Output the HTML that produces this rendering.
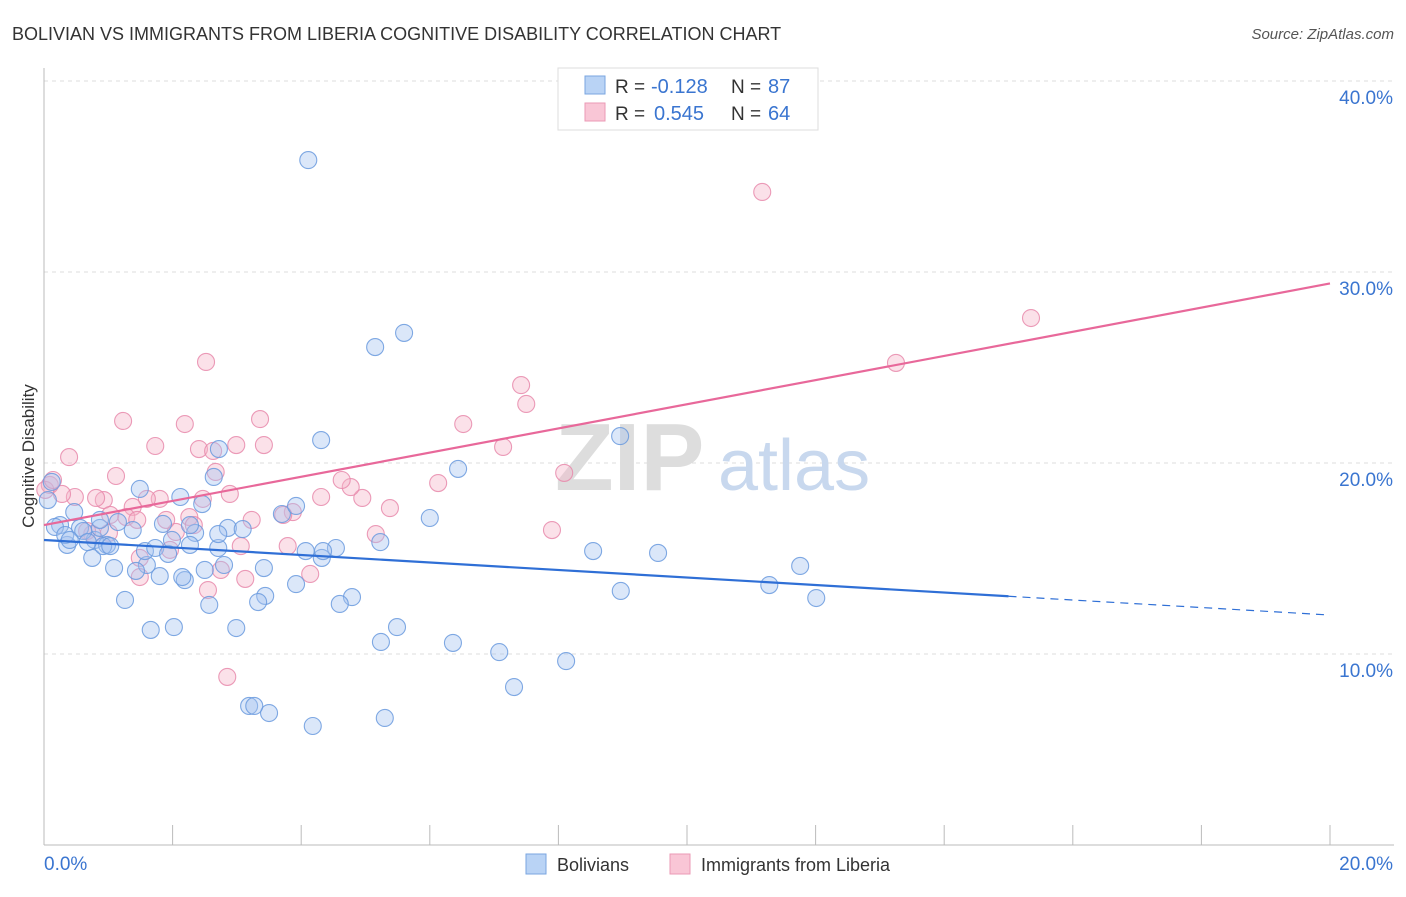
<!DOCTYPE html>
<html><head><meta charset="utf-8"><style>
body{margin:0;background:#fff;font-family:"Liberation Sans",sans-serif;}
svg text{font-family:"Liberation Sans",sans-serif;}
</style></head><body>
<svg id="chart" width="1406" height="892">
<text x="12" y="40" font-size="18" fill="#333">BOLIVIAN VS IMMIGRANTS FROM LIBERIA COGNITIVE DISABILITY CORRELATION CHART</text>
<text x="1394" y="39" font-size="15" fill="#555" text-anchor="end" font-style="italic">Source: ZipAtlas.com</text>
<g id="grid"></g>
<text x="555" y="490" font-size="96" fill="#ddd" font-family="Liberation Serif" font-weight="bold">ZIP</text>
<text x="718" y="490" font-size="72" fill="#c8d8ee">atlas</text>
<g id="pts"></g>
<g id="lines"></g>
<text transform="translate(34,456) rotate(-90)" font-size="17" fill="#333" text-anchor="middle">Cognitive Disability</text>
<g>
<rect x="558" y="68" width="260" height="62" fill="#fff" stroke="#ddd"/>
<rect x="585" y="76" width="20" height="18" fill="#b9d3f5" stroke="#7aa6e0"/>
<rect x="585" y="103" width="20" height="18" fill="#f9c6d6" stroke="#eb9ab5"/>
<text x="615" y="93" font-size="19" fill="#333">R =</text>
<text x="651" y="93" font-size="20" fill="#3a75d0">-0.128</text>
<text x="731" y="93" font-size="19" fill="#333">N =</text>
<text x="768" y="93" font-size="20" fill="#3a75d0">87</text>
<text x="615" y="120" font-size="19" fill="#333">R =</text>
<text x="654" y="120" font-size="20" fill="#3a75d0">0.545</text>
<text x="731" y="120" font-size="19" fill="#333">N =</text>
<text x="768" y="120" font-size="20" fill="#3a75d0">64</text>
</g>
<g>
<rect x="526" y="854" width="20" height="20" fill="#b9d3f5" stroke="#7aa6e0"/>
<text x="557" y="871" font-size="18" fill="#333">Bolivians</text>
<rect x="670" y="854" width="20" height="20" fill="#f9c6d6" stroke="#eb9ab5"/>
<text x="701" y="871" font-size="18" fill="#333">Immigrants from Liberia</text>
</g>
</svg>
<script>
const yTicks=[10,20,30,40];
const yTickLabels=["10.0%","20.0%","30.0%","40.0%"];
const xTickLabels=["0.0%","20.0%"];
const blueTrend=[15.97,12.04];
const pinkTrend=[16.75,29.4];
const blueDashFrom=15.0;
const bluePx=[[308,160],[375,347],[404,333],[321,440],[620,436],[458,469],[430,518],[380,542],[593,551],[658,553],[769,585],[800,566],[816,598],[621,591],[566,661],[514,687],[499,652],[453,643],[397,627],[381,642],[385,718],[313,726],[269,713],[249,706],[254,706],[352,597],[340,604],[296,584],[264,568],[265,596],[258,602],[236,628],[209,605],[205,570],[185,580],[182,577],[174,627],[151,630],[125,600],[160,576],[147,565],[136,571],[114,568],[92,558],[95,540],[107,545],[67,545],[60,525],[55,527],[80,528],[100,528],[103,546],[118,522],[133,530],[145,551],[155,548],[168,554],[172,540],[163,524],[180,497],[140,489],[202,504],[214,477],[219,449],[224,565],[218,548],[228,528],[243,529],[195,533],[190,545],[190,525],[218,534],[282,514],[296,506],[306,551],[322,558],[336,548],[323,551],[74,512],[83,531],[88,542],[110,546],[48,500],[52,482],[65,535],[70,540],[100,520]];
const pinkPx=[[762,192],[1031,318],[896,363],[521,385],[526,404],[463,424],[503,447],[564,473],[438,483],[552,530],[390,508],[362,498],[351,487],[342,480],[321,497],[293,512],[283,515],[260,419],[264,445],[236,445],[206,362],[185,424],[199,449],[213,451],[216,472],[230,494],[203,499],[189,517],[194,525],[176,532],[166,520],[160,499],[147,499],[133,507],[123,421],[116,476],[155,446],[104,500],[96,498],[110,515],[126,517],[137,520],[109,533],[92,534],[87,531],[75,497],[69,457],[62,494],[50,485],[45,490],[53,480],[140,577],[140,558],[221,570],[241,546],[245,579],[252,520],[310,574],[288,546],[376,534],[227,677],[208,590],[170,550]];
const blueX=bluePx.map(p=>+((p[0]-44)/64.3).toFixed(2));
const blueY=bluePx.map(p=>+((845-p[1])/19.1).toFixed(2));
const pinkX=pinkPx.map(p=>+((p[0]-44)/64.3).toFixed(2));
const pinkY=pinkPx.map(p=>+((845-p[1])/19.1).toFixed(2));
const X=v=>44+v*64.3, Y=v=>845-v*19.1;
const NS="http://www.w3.org/2000/svg";
function mk(t,a,p){const e=document.createElementNS(NS,t);for(const k in a)e.setAttribute(k,a[k]);p.appendChild(e);return e;}
const grid=document.getElementById('grid');
yTicks.forEach((t,i)=>{
 const l=mk('line',{x1:44,x2:1394,y1:Y(t),y2:Y(t),stroke:'#ddd','stroke-dasharray':'4,4'},grid);
 
 
 const tx=mk('text',{x:1393,y:Y(t)+23,'font-size':19,fill:'#3a75d0','text-anchor':'end'},grid);
 tx.textContent=yTickLabels[i];
 
 
});
mk('line',{x1:44,x2:44,y1:68,y2:845,stroke:'#bbb'},grid);
mk('line',{x1:44,x2:1394,y1:845,y2:845,stroke:'#bbb'},grid);
for(let i=0;i<=10;i++){mk('line',{x1:X(i*2),x2:X(i*2),y1:825,y2:845,stroke:'#bbb'},grid);}
[[0,44,'start'],[20,1393,'end']].forEach((d,i)=>{
 const tx=mk('text',{x:d[1],y:870,'font-size':19,fill:'#3a75d0','text-anchor':d[2]},grid);
 tx.textContent=xTickLabels[i];
 
 
});
const pts=document.getElementById('pts');
function draw(xs,ys,fill,stroke,name){xs.forEach((x,i)=>{
 const c=mk('circle',{cx:X(x),cy:Y(ys[i]),r:8.5,fill:fill,'fill-opacity':0.4,stroke:stroke,'stroke-width':1.1,'stroke-opacity':0.85},pts);
 
 
});}
draw(pinkX,pinkY,'#f5b3c8','#e88aab','liberia-point');
draw(blueX,blueY,'#a4c4ef','#6a9ade','bolivian-point');
const lg=document.getElementById('lines');
const bAt=x=>blueTrend[0]+(blueTrend[1]-blueTrend[0])*x/20;
let l=mk('line',{x1:X(0),y1:Y(bAt(0)),x2:X(blueDashFrom),y2:Y(bAt(blueDashFrom)),stroke:'#2f6fd6','stroke-width':2.2},lg);


l=mk('line',{x1:X(blueDashFrom),y1:Y(bAt(blueDashFrom)),x2:X(20),y2:Y(bAt(20)),stroke:'#2f6fd6','stroke-width':1.2,'stroke-dasharray':'8,6'},lg);


l=mk('line',{x1:X(0),y1:Y(pinkTrend[0]),x2:X(20),y2:Y(pinkTrend[1]),stroke:'#e8689a','stroke-width':2.2},lg);


</script>
</body></html>
